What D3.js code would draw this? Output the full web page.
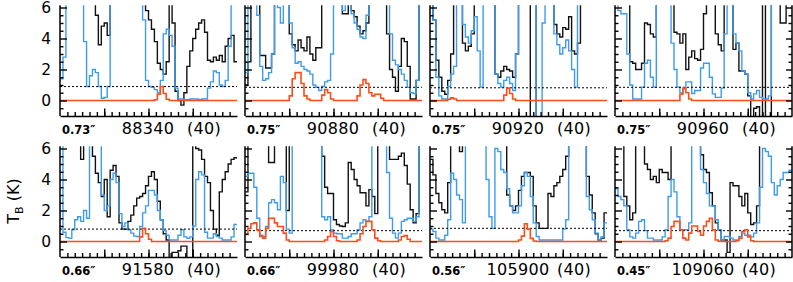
<!DOCTYPE html>
<meta charset="utf-8">
<style>
body { margin: 0; background: #fff; }
svg { display: block; font-family: "DejaVu Sans", sans-serif; }
.axis path, .axis line { stroke: #000; stroke-width: 1.4px; fill: none; }
.axis text { font-size: 15.5px; fill: #000; font-family: "DejaVu Sans", sans-serif; }
.spine { stroke: #000; stroke-width: 1.5px; }
.obs { fill: none; stroke: #111; stroke-width: 1.4px; }
.obs2 { fill: none; stroke: #3d9bf0; stroke-width: 1.4px; }
.model { fill: none; stroke: #ff4d1a; stroke-width: 1.6px; }
.rms { stroke: #000; stroke-width: 1px; stroke-dasharray: 2,2; }
.freq { font-size: 16px; letter-spacing: 0.3px; }
.beam { font-size: 11.5px; font-weight: bold; }
</style>
<svg width="793" height="282"></svg>
<script src="https://cdn.jsdelivr.net/npm/d3@7"></script>
<script>

// panel labels
var freqs = ["88340", "90880", "90920", "90960", "91580", "99980", "105900", "109060"];
var beams = ["0.73\u2033", "0.75\u2033", "0.75\u2033", "0.75\u2033", "0.66\u2033", "0.66\u2033", "0.56\u2033", "0.45\u2033"];
var widths = ["(40)", "(40)", "(40)", "(40)", "(40)", "(40)", "(40)", "(40)"];
var rmsLevels = [0.9, 0.85, 0.82, 0.85, 0.8, 0.7, 0.85, 0.7];
var yTicks = [0, 2, 4, 6];

// spectra, 60 channels each (K); black = observed, blue = second spectrum, model = red
var black1 = [8,8,8,8,8,8,8,8,8,8, 8,8,5.5,3.6,4.8,5.0,4.2,8,8,8, 8,8,8,8,8,8,8,8,8,5.8,
  5.2,4.6,3.8,2.4,2.0,1.7,2.5,8,5,0.6, 0,-0.3,0.5,2.2,3.2,4.0,4.6,5.0,5.2,4.4, 2.6,2.5,2.8,2.6,2.9,2.5,3.5,4.0,4.2,2.5];
var blue1 = [1.4,2.8,8,8,8,8,8,8,3.8,0.9, 1.6,2.0,1.8,0.9,0.15,0.2,0.9,8,8,8, 8,8,8,8,8,8,8,8,5.2,1.3,
  0.9,0.85,0.7,0.5,1.3,4.3,4.6,4.2,3.5,0.8, 0.1,0.1,0.05,0.05,0.1,0.1,0.1,0.05,0.1,0.1, 0.8,1.2,1.9,1.8,1.0,0.9,1.3,3.5,8,8];
var model1 = [0,0,0,0,0,0,0,0,0,0, 0,0,0,0,0,0,0,0,0,0, 0,0,0,0,0,0,0,0,0,0,
  0,0,0.05,0.4,0.9,0.45,0.08,0,0,0, 0,0,0,0,0,0,0,0,0,0, 0,0,0,0,0,0,0,0,0,0];

var black2 = [1.0,2.5,8,8,8,2.9,2.9,2.1,2.1,3.0, 8,8,8,8,8,4.3,3.6,3.2,3.9,3.4, 3.2,4.1,3.0,2.6,3.4,3.4,8,8,8,8,
  8,8,8,5.6,5.6,8,5.8,5.4,4.8,4.3, 4.5,5.0,8,8,8,8,8,8,4.3,2.0, 1.5,0.6,2.2,4.0,3.8,2.2,0.1,0.1,1.3,8];
var blue2 = [1.8,8,8,6.5,5.5,2.2,1.3,1.4,1.8,3.0, 8,6,5,8,8,5,3.4,2.4,2.5,2.2, 2.0,1.9,1.7,1.0,0.85,0.65,0.9,1.2,1.3,3,
  8,8,8,5.8,8,8,5.6,5.0,4.6,4.1, 4.0,5.5,8,8,8,8,8,8,8,4.3, 2.6,2.3,2.0,1.7,1.3,0.85,0.5,0.45,1.3,8];
var model2 = [0,0,0,0,0,0,0,0,0,0, 0,0,0,0,0,0.3,1.4,1.8,1.8,1.1, 0.3,0.1,0,0,0,0,0.35,0.7,0.5,0.1,
  0,0,0,0,0,0,0,0,0.3,1.0, 1.35,1.1,0.5,0.3,0.4,0.4,0.15,0,0,0, 0,0,0,0,0,0,0,0,0,0];

var black3 = [8,5.2,2.6,1.5,0.6,0.4,1.3,3.0,8,8, 8,3.7,3.2,3.5,4.3,8,8,8,8,8, 8,8,1.7,1.5,1.9,2.2,2.0,1.9,1.5,3,
  8,8,8,8,-2,-2,8,8,8,8, 8,8,4.9,4.3,4.1,4.7,4.6,5.4,3.2,3.0, 3.7,8,8,8,8,8,8,8,8,8];
var blue3 = [8,5.2,1.5,0.3,0.1,0.1,0.9,1.7,2.2,8, 8,4.9,4.1,3.7,4.5,5.4,3.2,0.86,8,8, 8,8,1.7,1.1,0.86,1.3,1.5,1.1,0.65,3,
  8,8,8,8,8,8,-2,-2,5,8, 8,8,4.3,3.6,3.0,3.4,3.9,3.2,2.0,0.86, 8,8,8,8,8,8,8,8,8,8];
var model3 = [0,0,0,0,0,0,0.08,0.17,0.1,0, 0,0,0,0,0,0,0,0,0,0, 0,0,0,0,0,0.35,0.8,0.45,0.1,0,
  0,0,0,0,0,0,0,0,0,0, 0,0,0,0,0,0,0,0,0,0, 0,0,0,0,0,0,0,0,0,0];

var black4 = [8,8,8,8,8,2.5,2.4,2.0,2.0,2.4, 5.0,4.9,4.3,4.1,8,8,8,8,8,8, 4.4,4.3,3.7,4.3,2.0,2.8,3.2,2.7,2.6,3.3,
  5.6,8,8,8,4.3,3.6,3.2,8,8,8, 3.3,3.7,1.9,1.9,1.7,0.3,-2,-0.5,-0.4,-2, 8,-2,-2,8,8,8,5.0,5.0,8,8];
var blue4 = [8,5.8,5.6,5.6,3.0,1.0,0.1,0.1,0.1,0.86, 2.4,2.6,1.5,0.86,8,8,8,8,8,3.7, 2.0,0.86,0.5,0.75,1.2,1.2,0.45,0.65,0.65,2.1,
  2.4,2.4,1.5,0.43,0.2,0.2,0.8,4.3,8,8, 4.3,3.7,3.2,1.9,1.7,0.5,0.1,0.43,0.65,0.2, 0.1,0.1,0.3,8,8,8,8,8,8,8];
var model4 = [0,0,0,0,0,0,0,0,0,0, 0,0,0,0,0,0,0,0,0,0, 0,0,0.4,0.8,0.5,0.1,0,0,0,0,
  0,0,0,0,0,0,0,0,0,0, 0,0,0,0,0,0,0,0,0,0, 0,0,0,0,0,0,0,0,0,0];

var black5 = [8,8,8,8,8,8,8,5.3,8,8, 8,5.5,4.4,3.8,2.9,4.0,1.6,4.6,4.9,4.2, 1.2,0.8,0.8,1.3,1.7,2.3,2.8,2.9,3.1,3.6,
  4.2,4.5,4.0,2.6,1.4,0.5,0.1,-1.5,-0.7,-0.7, -0.6,-0.3,-0.3,-1.5,-1.5,8,6.0,5.9,5.3,4.2, 3.8,2.0,0.8,0.4,3.2,4.0,4.5,5.0,5.3,5.4];
var blue5 = [8,0.6,0.25,0.2,0.76,1.4,1.6,1.3,2.0,1.5, 8,8,8,8,3.0,2.0,2.3,4.0,4.4,3.8, 1.8,0.97,1.2,0.76,0.54,0.35,0.32,0.97,1.85,2.3,
  3.3,3.3,3.0,2.0,1.4,0.7,0.4,0.1,0.1,0.1, 0.4,0.76,0.3,0.2,0.3,1.0,4.0,4.5,4.3,0.6, 0.22,0.22,0.5,0.32,0.22,0.1,0.1,0.1,0.3,1.1];
var model5 = [0,0,0,0,0,0,0,0,0,0, 0,0,0,0,0,0,0,0,0,0, 0,0,0,0,0,0,0,0.3,0.85,0.5,
  0.15,0,0,0,0,0,0,0,0,0, 0,0,0,0,0,0,0,0,0,0, 0,0,0,0,0,0,0,0,0,0];

var black6 = [3.2,8,8,8,8,8,8,8,5.1,5.1, 8,8,8,8,2.0,8,8,8,8,8, 8,8,8,8,8,8,5.5,3.5,3.1,3.1,
  1.4,1.1,1.0,0.97,1.2,5.1,4.65,4.0,3.6,3.15, 3.15,2.3,3.35,2.9,1.8,8,8,8,8,5.3, 5.3,5.3,5.5,5.7,4.9,3.7,2.05,1.2,1.8,8];
var blue6 = [4.2,4.4,4.4,3.5,1.5,0.4,0.32,0.97,2.5,2.7, 2.5,2.05,4.2,3.8,0.8,0.54,8,8,8,8, 8,8,8,8,8,8,1.6,1.4,1.6,0.76,
  0.54,0.5,0.5,0.22,0.22,0.32,0.5,0.5,0.76,1.2, 1.4,1.3,1.6,8,8,8,8,8,4.45,1.5, 0.54,0.22,0.54,1.3,1.4,1.5,1.5,1.3,1.6,8];
var model6 = [0.45,0.85,1.15,1.2,0.75,0.32,0.22,0.85,1.5,1.5, 1.2,0.97,0.97,0.54,0.1,0,0,0,0,0, 0,0,0,0,0,0,0,0.1,0.32,0.65,
  0.32,0.05,0,0,0,0,0,0,0.1,0.5, 0.97,1.3,1.3,0.76,0.22,0.05,0,0,0,0, 0,0,0.1,0.32,0.38,0.15,0,0,0,0];

var black7 = [5.3,4.3,3.1,2.5,2.05,1.85,3.8,8,8,8, 5.8,8,8,8,8,8,8,8,8,8, 8,8,8,8,8,8,3.0,2.3,2.0,2.3,
  3.3,4.2,4.45,4.45,4.2,2.3,1.2,0.85,0.85,0.85, 3.1,2.9,3.6,3.8,4.2,4.65,5.5,8,8,8, 8,8,8,4.2,3.0,1.85,0.5,0.1,0.22,1.85];
var blue7 = [0.8,0.65,0.22,0.1,0.1,0.4,1.4,4.4,4.0,3.0, 2.7,1.2,8,8,8,8,8,8,8,4.0, 1.6,0.85,6.0,5.8,4.65,4.45,3.4,2.3,1.85,1.85,
  2.3,3.6,4.45,4.2,2.9,1.2,0.32,0.1,0.1,0.1, 0.1,0.1,0.1,0.1,0.1,0.8,1.4,8,8,8, 8,8,8,2.9,2.05,1.4,0.54,0.1,0.3,1.2];
var model7 = [0,0,0,0,0,0,0,0,0,0, 0,0,0,0,0,0,0,0,0,0, 0,0,0,0,0,0,0,0,0,0,
  0.1,0.35,1.15,0.8,0.2,0.03,0,0,0,0, 0,0,0,0,0,0,0,0,0,0, 0,0,0,0,0,0,0,0,0,0];

var black8 = [8,8,8,2.9,2.3,1.4,1.85,8,8,8, 5.0,4.65,4.0,4.2,3.8,4.65,4.45,4.45,4.0,8, 8,8,8,8,8,8,8,8,8,5.6,
  4.65,4.45,3.15,2.3,1.2,0.76,0.1,0.1,-0.7,3.8, 3.6,3.6,2.9,2.3,3.1,1.85,1.1,1.2,2.3,8, 8,8,8,8,8,8,8,8,8,8];
var blue8 = [3.4,2.9,2.7,2.3,0.76,0.3,0.22,0.54,1.3,1.4, 0.7,0.22,0.22,0.1,0.1,0.1,0.3,0.76,2.9,4.0, 3.2,1.6,0.76,0.76,0.76,1.2,8,8,8,4.65,
  3.8,3.1,2.3,2.3,1.4,0.76,0.1,0.32,0.32,0.22, 0.1,0.1,0.32,0.54,0.4,0.4,0.3,0.54,1.2,3.5, 6.0,5.8,5.5,3.8,3.0,3.6,4.0,4.45,4.45,4.6];
var model8 = [0,0,0,0,0,0,0,0,0,0, 0,0,0,0,0,0,0,0.05,0.22,0.97, 1.3,1.3,0.76,0.22,0.1,0.54,1.0,1.0,0.65,0.4,
  1.0,1.3,1.5,0.75,0.1,0.02,0,0,0,0, 0,0.05,0.22,0.65,0.76,0.3,0.05,0,0,0, 0,0,0,0,0,0,0,0,0,0];

var blacks = [black1, black2, black3, black4, black5, black6, black7, black8];
var blues = [blue1, blue2, blue3, blue4, blue5, blue6, blue7, blue8];
var models = [model1, model2, model3, model4, model5, model6, model7, model8];

var svg = d3.select("svg");

var left0 = 60, pw = 177, stepX = 185, nChan = 60;
var rowRange = [[116, 7.5], [257, 148.5]];   // y(-1), y(6) for each row

var x = d3.scaleLinear().domain([0, nChan]).range([0, pw]);
var xt = d3.scaleLinear().domain([0, 24]).range([0, pw]);

freqs.forEach(function(f, k) {
  var row = Math.floor(k / 4), col = k % 4;
  var y = d3.scaleLinear().domain([-1, 6]).range(rowRange[row]);
  var g = svg.append("g").attr("transform", "translate(" + (left0 + col * stepX) + ",0)");

  var clipId = "clip" + k;
  g.append("clipPath").attr("id", clipId)
    .append("rect")
      .attr("x", 0).attr("y", y(6.15))
      .attr("width", pw).attr("height", y(-1) - y(6.15));

  var line = d3.line()
      .x(function(d, i) { return x(i); })
      .y(function(d) { return y(d); })
      .curve(d3.curveStepAfter);

  function ext(s) { return s.concat([s[s.length - 1]]); }

  var plot = g.append("g").attr("clip-path", "url(#" + clipId + ")");
  plot.append("path").attr("class", "obs").attr("d", line(ext(blacks[k])));
  plot.append("path").attr("class", "obs2").attr("d", line(ext(blues[k])));
  plot.append("line").attr("class", "rms")
      .attr("x1", 0).attr("x2", pw)
      .attr("y1", y(rmsLevels[k])).attr("y2", y(rmsLevels[k]));
  plot.append("path").attr("class", "model").attr("d", line(ext(models[k])));

  // bottom axis: minor + major ticks pointing up
  g.append("g").attr("class", "axis")
      .attr("transform", "translate(0," + y(-1) + ")")
      .call(d3.axisBottom(xt).tickValues(d3.range(1, 24)).tickSizeInner(-4).tickSizeOuter(0).tickFormat(""));
  g.append("g").attr("class", "axis")
      .attr("transform", "translate(0," + y(-1) + ")")
      .call(d3.axisBottom(xt).tickValues([6, 12, 18]).tickSizeInner(-7.5).tickSizeOuter(0).tickFormat(""))
      .select(".domain").remove();

  // left axis
  var minorY = d3.range(-0.5, 6.01, 0.5).filter(function(v) { return v % 2 !== 0; });
  var la = g.append("g").attr("class", "axis");
  la.call(d3.axisLeft(y).tickValues(minorY).tickSizeInner(-3.5).tickSizeOuter(0).tickFormat(""))
    .select(".domain").remove();
  var lb = g.append("g").attr("class", "axis");
  lb.call(d3.axisLeft(y).tickValues(yTicks).tickSizeInner(-7).tickSizeOuter(0).tickPadding(9)
      .tickFormat(col === 0 ? d3.format("d") : ""))
    .select(".domain").remove();
  g.append("line").attr("class", "spine")
      .attr("x1", 0).attr("x2", 0).attr("y1", y(6.15)).attr("y2", y(-1));

  if (col === 3) {
    var ra = g.append("g").attr("class", "axis").attr("transform", "translate(" + pw + ",0)");
    ra.call(d3.axisRight(y).tickValues(minorY).tickSizeInner(-3.5).tickSizeOuter(0).tickFormat(""))
      .select(".domain").remove();
    var rb = g.append("g").attr("class", "axis").attr("transform", "translate(" + pw + ",0)");
    rb.call(d3.axisRight(y).tickValues(yTicks).tickSizeInner(-6).tickSizeOuter(0).tickFormat(""))
      .select(".domain").remove();
    g.append("line").attr("class", "spine")
        .attr("x1", pw).attr("x2", pw).attr("y1", y(6.15)).attr("y2", y(-1));
  }

  // labels under panel
  var base = y(-1) + 17.5;
  g.append("text").attr("class", "beam").attr("x", 2).attr("y", base).text(beams[k]);
  g.append("text").attr("class", "freq").attr("x", 88).attr("y", base)
      .attr("text-anchor", "middle").text(f);
  g.append("text").attr("class", "freq").attr("x", 161).attr("y", base)
      .attr("text-anchor", "end").text(widths[k]);
});

// y label
var yl = svg.append("text")
    .attr("transform", "translate(19,201) rotate(-90)")
    .attr("text-anchor", "middle")
    .style("font-size", "16px");
yl.append("tspan").text("T");
yl.append("tspan").attr("dy", 4).style("font-size", "11px").text("B");
yl.append("tspan").attr("dy", -4).text(" (K)");

</script>
